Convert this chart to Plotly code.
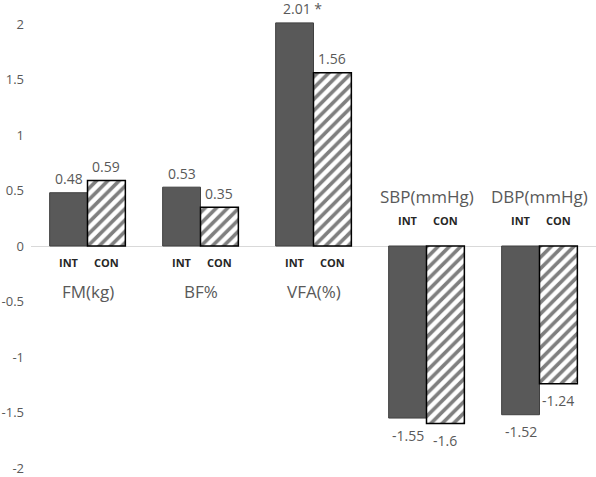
import plotly.graph_objects as go

categories = ["FM(kg)", "BF%", "VFA(%)", "SBP(mmHg)", "DBP(mmHg)"]
int_values = [0.48, 0.53, 2.01, -1.55, -1.52]
con_values = [0.59, 0.35, 1.56, -1.60, -1.24]
int_labels = ["0.48", "0.53", "2.01 *", "-1.55", "-1.52"]
con_labels = ["0.59", "0.35", "1.56", "-1.6", "-1.24"]
group_names = ["INT", "CON"]
y_ticks = [2, 1.5, 1, 0.5, 0, -0.5, -1, -1.5, -2]
y_ticktext = ["2", "1.5", "1", "0.5", "0", "-0.5", "-1", "-1.5", "-2"]

TEXT = "#595959"
FONT = "Open Sans"
BARGAP = 0.33
half = (1 - BARGAP) / 4  # offset of each bar center from category center

xs = list(range(len(categories)))

fig = go.Figure()
fig.add_trace(go.Bar(
    x=xs, y=int_values, name=group_names[0], offsetgroup="a",
    marker=dict(color="#595959", line=dict(color="#404040", width=1)),
))
fig.add_trace(go.Bar(
    x=xs, y=con_values, name=group_names[1], offsetgroup="b",
    marker=dict(color="white", line=dict(color="black", width=1.5),
                pattern=dict(shape="/", fgcolor="black", bgcolor="white",
                             size=8, solidity=0.45)),
))

ann = []
for i, cat in enumerate(categories):
    for vals, labs, sgn in ((int_values, int_labels, -1), (con_values, con_labels, 1)):
        v = vals[i]
        lab = labs[i]
        xa = "center"
        xs_shift = 0
        if lab.endswith("*"):
            xa = "left"
            xs_shift = -14
        ann.append(dict(x=i + sgn * half, y=v, xref="x", yref="y", text=lab,
                        showarrow=False, xanchor=xa, xshift=xs_shift,
                        yanchor="middle", yshift=14 if v >= 0 else -17,
                        font=dict(family=FONT, size=14, color=TEXT)))
    positive = int_values[i] >= 0
    for name, sgn in zip(group_names, (-1, 1)):
        ann.append(dict(x=i + sgn * half, y=0, xref="x", yref="y", text="<b>" + name + "</b>",
                        showarrow=False, xanchor="center", yanchor="middle",
                        yshift=-16 if positive else 26,
                        font=dict(family=FONT, size=11, color="#262626")))
    ann.append(dict(x=i, y=0, xref="x", yref="y", text=cat, showarrow=False,
                    xanchor="center", yanchor="middle",
                    yshift=-45 if positive else 50,
                    font=dict(family=FONT, size=17, color=TEXT)))

fig.update_layout(
    width=596, height=477,
    margin=dict(l=31, r=0, t=20, b=3),
    paper_bgcolor="white", plot_bgcolor="white",
    barmode="group", bargap=BARGAP, bargroupgap=0,
    showlegend=False,
    annotations=ann,
    font=dict(family=FONT, color=TEXT),
)
fig.update_xaxes(range=[-0.5, len(categories) - 0.5], showticklabels=False,
                 showgrid=False, zeroline=False, showline=False, ticks="")
fig.update_yaxes(range=[-2.027, 2.036], tickvals=y_ticks, ticktext=y_ticktext,
                 showgrid=False, zeroline=True, zerolinecolor="#d9d9d9", zerolinewidth=1,
                 showline=False, ticks="", ticklabeloverflow="allow", ticklabelstandoff=6,
                 tickfont=dict(family=FONT, size=13, color=TEXT))

fig.write_html("out.html", config={"displayModeBar": False})

# remove the browser's default page margin so the figure sits at the top-left corner
with open("out.html", "r", encoding="utf-8") as f:
    html = f.read()
html = html.replace("<head>", "<head><style>html,body{margin:0;padding:0;overflow:hidden;}</style>", 1)
with open("out.html", "w", encoding="utf-8") as f:
    f.write(html)
